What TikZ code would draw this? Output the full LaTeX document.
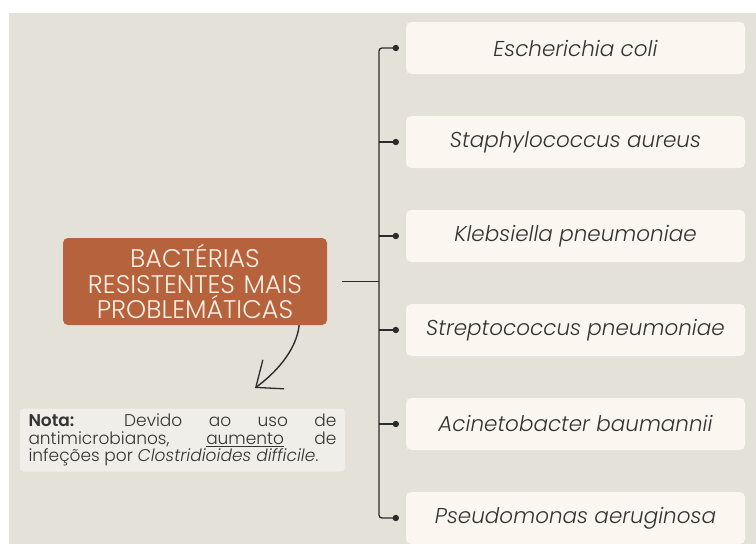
\documentclass[tikz,border=0pt]{standalone}
\usepackage{fontspec}
\setmainfont{Poppins}[UprightFont=* Light, ItalicFont=* Light Italic, BoldFont=* SemiBold]
\usepackage{xcolor}
\usepackage{tikz}
\usetikzlibrary{arrows.meta, positioning, calc}
\definecolor{paper-bg}{HTML}{E4E1D8}
\definecolor{leaf-cream}{HTML}{FBF6EF}
\definecolor{root-rust}{HTML}{B5623D}
\definecolor{root-text}{HTML}{FDF0E4}
\definecolor{note-bg}{HTML}{F0EEE8}
\definecolor{ink}{HTML}{2B2B2B}
\definecolor{label-gray}{HTML}{333333}

\begin{document}
\begin{tikzpicture}[
    x=1pt, y=-1pt,
    leaf/.style={fill=leaf-cream, minimum width=339pt, minimum height=52pt, rounded corners=5pt,
        text=label-gray, font=\fontsize{21.5}{24}\selectfont\itshape},
    root/.style={fill=root-rust, minimum width=264pt, minimum height=87pt, rounded corners=5pt,
        text=root-text, text width=260pt, align=center, inner sep=1pt,
        font=\fontsize{25.5}{25.5}\selectfont},
    memo/.style={fill=note-bg, minimum width=325pt, minimum height=63pt, rounded corners=3pt,
        text=label-gray, text width=308pt, align=justify, inner sep=2pt,
        font=\fontsize{17}{17.5}\selectfont},
    branch/.style={ink, line width=1.3pt},
    hook/.style={ink, line width=1.4pt, -{Straight Barb[length=22pt, width=36pt, line width=1.3pt]}}
]
    \useasboundingbox (0,0) rectangle (756,544);
    \fill[white] (0,0) rectangle (756,544);
    \fill[paper-bg] (9,13) rectangle (756,544);

    \node (main) [root] at (195,281.5) {BACTÉRIAS\\RESISTENTES MAIS\\PROBLEMÁTICAS};

    \node (1) [leaf] at (575.5,48) {Escherichia coli};
    \node (2) [leaf, below=41.6pt of 1] {Staphylococcus aureus};
    \node (3) [leaf, below=41.6pt of 2] {Klebsiella pneumoniae};
    \node (4) [leaf, below=41.6pt of 3] {Streptococcus pneumoniae};
    \node (5) [leaf, below=41.6pt of 4] {Acinetobacter baumannii};
    \node (6) [leaf, below=41.6pt of 5] {Pseudomonas aeruginosa};

    \node (note) [memo] at (182.5,440) {\parfillskip=0pt \textbf{Nota:} Devido ao uso de\linebreak
        antimicrobianos, \underline{aumento} de\linebreak
        infeções por \textit{Clostridioides difficile}.};

    % tree connectors
    \coordinate (trunk) at (379,281.5);
    \coordinate (d1) at ($(1.west)+(-10,0)$);
    \coordinate (d2) at ($(2.west)+(-10,0)$);
    \coordinate (d3) at ($(3.west)+(-10,0)$);
    \coordinate (d4) at ($(4.west)+(-10,0)$);
    \coordinate (d5) at ($(5.west)+(-10,0)$);
    \coordinate (d6) at ($(6.west)+(-10,0)$);

    \draw [branch] ([xshift=15pt]main.east) -- (trunk);
    \draw [branch, rounded corners=3pt] (d1) -| (d6 -| trunk) -- (d6);
    \draw [branch] (d2 -| trunk) -- (d2);
    \draw [branch] (d3 -| trunk) -- (d3);
    \draw [branch] (d4 -| trunk) -- (d4);
    \draw [branch] (d5 -| trunk) -- (d5);
    \fill [ink] (d1) circle (3.2pt) (d2) circle (3.2pt) (d3) circle (3.2pt)
        (d4) circle (3.2pt) (d5) circle (3.2pt) (d6) circle (3.2pt);

    % curved pointer to the note
    \coordinate (tip) at (255,388);
    \draw [hook] ([xshift=-28pt]main.south east) .. controls (296,352) and (274,374) .. (tip);
\end{tikzpicture}
\end{document}
